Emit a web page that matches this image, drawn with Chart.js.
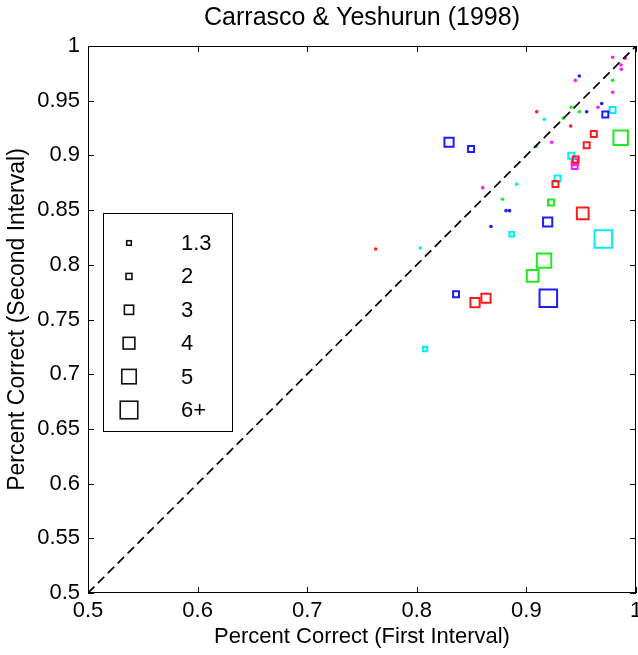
<!DOCTYPE html>
<html><head><meta charset="utf-8">
<script src="https://cdn.jsdelivr.net/npm/chart.js@4.4.0/dist/chart.umd.min.js"></script>
<style>html,body{margin:0;padding:0;background:#fff;overflow:hidden}#wrap{width:638px;height:655px;position:relative}</style>
</head><body><div id="wrap"><canvas id="c"></canvas></div>
<script>
// ---- data ----
const xTicks = [0.5, 0.6, 0.7, 0.8, 0.9, 1];
const yTicks = [0.5, 0.55, 0.6, 0.65, 0.7, 0.75, 0.8, 0.85, 0.9, 0.95, 1];
const legendLabels = ['1.3', '2', '3', '4', '5', '6+'];
const legendSizes = [1.3, 2, 3, 4, 5, 6];
const diagX = [0.5, 1];
const diagY = [0.5, 1];

// size 1 = tiny dot (below smallest legend class)
const redX    = [0.9094, 0.9404, 0.7625, 0.9615, 0.9550, 0.9450, 0.9265, 0.9514, 0.8531, 0.8631];
const redY    = [0.9399, 0.9269, 0.8144, 0.9196, 0.9093, 0.8963, 0.8739, 0.8471, 0.7654, 0.7694];
const redSize = [1, 1, 1, 2, 2, 2, 2, 4, 3, 3];

const greenX    = [0.9407, 0.9483, 0.9787, 0.9337, 0.9090, 0.8782, 0.9860, 0.9224, 0.9161, 0.9057];
const greenY    = [0.9440, 0.9399, 0.9686, 0.9339, 0.9081, 0.8599, 0.9162, 0.8569, 0.8038, 0.7898];
const greenSize = [1, 1, 1, 1, 1, 1, 5, 2, 5, 4];

const blueX    = [0.9483, 0.9550, 0.9687, 0.8814, 0.8846, 0.8677, 0.8294, 0.8495, 0.9720, 0.9194, 0.8358, 0.9200];
const blueY    = [0.9726, 0.9399, 0.9474, 0.8495, 0.8495, 0.8350, 0.9120, 0.9058, 0.9374, 0.8391, 0.7730, 0.7694];
const blueSize = [1, 1, 1, 1, 1, 1, 3, 2, 2, 3, 2, 6];

const cyanX    = [0.9163, 0.8911, 0.8032, 0.9786, 0.9409, 0.9284, 0.8866, 0.9702, 0.8075];
const cyanY    = [0.9330, 0.8737, 0.8154, 0.9415, 0.8997, 0.8789, 0.8279, 0.8236, 0.7230];
const cyanSize = [1, 1, 1, 2, 2, 2, 1.3, 6, 1.3];

const magentaX    = [0.9787, 0.9902, 0.9863, 0.9866, 0.9446, 0.9787, 0.9653, 0.9231, 0.8601, 0.9441, 0.9441];
const magentaY    = [0.9897, 0.9888, 0.9826, 0.9787, 0.9686, 0.9577, 0.9440, 0.9120, 0.8705, 0.8940, 0.8903];
const magentaSize = [1, 1, 1, 1, 1, 1, 1, 1, 1, 2, 2];

// ---- styles ----
const FONT = "'Liberation Sans', Arial, Helvetica, sans-serif";
const RADIUS = {1.3: 3.2, 2: 4.2, 3: 6.5, 4: 8.3, 5: 10.2, 6: 12.4};
function rad(s) { return s < 1.3 ? 1.8 : RADIUS[s]; }

function series(xs, ys, ss, color) {
  return {
    type: 'scatter',
    data: xs.map((x, i) => ({x: x, y: ys[i], s: ss[i]})),
    pointStyle: c => (c.raw && c.raw.s < 1.3) ? 'circle' : 'rect',
    pointRadius: c => c.raw ? rad(c.raw.s) : 3,
    backgroundColor: c => (c.raw && c.raw.s < 1.3) ? color : 'rgba(0,0,0,0)',
    borderColor: color,
    borderWidth: c => (c.raw && c.raw.s < 1.3) ? 0 : 2,
    clip: false
  };
}

const framePlugin = {
  id: 'frame',
  afterDraw(chart) {
    const {ctx, chartArea: a, scales} = chart;
    ctx.save();
    ctx.strokeStyle = '#000';
    ctx.lineWidth = 1;
    ctx.strokeRect(a.left + 0.5, a.top + 0.5, a.right - a.left - 1, a.bottom - a.top - 1);
    const tl = 6;
    ctx.beginPath();
    xTicks.forEach(v => {
      const px = Math.round(scales.x.getPixelForValue(v)) + 0.5;
      ctx.moveTo(px, a.bottom); ctx.lineTo(px, a.bottom - tl);
      ctx.moveTo(px, a.top); ctx.lineTo(px, a.top + tl);
    });
    yTicks.forEach(v => {
      const py = Math.round(scales.y.getPixelForValue(v)) + 0.5;
      ctx.moveTo(a.left, py); ctx.lineTo(a.left + tl, py);
      ctx.moveTo(a.right, py); ctx.lineTo(a.right - tl, py);
    });
    ctx.stroke();

    // legend box
    const L = a.left + 15, T = a.top + 167, W = 129, H = 218;
    ctx.fillStyle = '#fff';
    ctx.fillRect(L, T, W, H);
    ctx.strokeRect(L + 0.5, T + 0.5, W, H);
    ctx.font = '22px ' + FONT;
    ctx.textBaseline = 'middle';
    ctx.textAlign = 'left';
    legendLabels.forEach((lab, i) => {
      const cy = T + 30 + i * 33.4;
      const cx = L + 26;
      const side = 2 * Math.SQRT1_2 * rad(legendSizes[i]);
      ctx.lineWidth = 1.6;
      ctx.strokeStyle = '#111';
      ctx.strokeRect(cx - side / 2, cy - side / 2, side, side);
      ctx.fillStyle = '#000';
      ctx.fillText(lab, L + 78, cy + 1);
    });
    ctx.restore();
  }
};

new Chart(document.getElementById('c'), {
  data: {
    datasets: [
      {
        type: 'line',
        data: diagX.map((x, i) => ({x: x, y: diagY[i]})),
        borderColor: '#000',
        borderWidth: 1.7,
        borderDash: [9, 5],
        pointRadius: 0,
        fill: false
      },
      series(redX, redY, redSize, '#ff1c1c'),
      series(greenX, greenY, greenSize, '#1eea1e'),
      series(blueX, blueY, blueSize, '#1c1cff'),
      series(cyanX, cyanY, cyanSize, '#00f0f0'),
      series(magentaX, magentaY, magentaSize, '#ff1cff')
    ]
  },
  options: {
    responsive: true,
    maintainAspectRatio: false,
    animation: false,
    events: [],
    layout: {autoPadding: false, padding: {left: 0, right: 2, top: 0, bottom: 0}},
    plugins: {
      legend: {display: false},
      tooltip: {enabled: false},
      title: {
        display: true,
        fullSize: false,
        text: 'Carrasco & Yeshurun (1998)',
        color: '#000',
        font: {family: FONT, size: 25, weight: 'normal'},
        padding: {top: 3, bottom: 13}
      }
    },
    scales: {
      x: {
        type: 'linear', position: 'bottom', min: 0.5, max: 1,
        afterBuildTicks: s => { s.ticks = xTicks.map(v => ({value: v})); },
        afterFit: s => { s.height = 62; s.paddingLeft = 0; s.paddingRight = 0; },
        grid: {display: false, drawTicks: false},
        border: {display: false},
        ticks: {callback: v => String(v), color: '#000', font: {family: FONT, size: 22}, padding: 5, maxRotation: 0, autoSkip: false},
        title: {display: true, text: 'Percent Correct (First Interval)', color: '#000', font: {family: FONT, size: 22}, padding: {top: 0, bottom: 4.8}}
      },
      y: {
        type: 'linear', position: 'left', min: 0.5, max: 1,
        afterBuildTicks: s => { s.ticks = yTicks.map(v => ({value: v})); },
        afterFit: s => { s.width = 88; s.paddingTop = 0; s.paddingBottom = 0; },
        grid: {display: false, drawTicks: false},
        border: {display: false},
        ticks: {callback: v => String(v), color: '#000', font: {family: FONT, size: 22}, padding: 8, autoSkip: false},
        title: {display: true, text: 'Percent Correct (Second Interval)', color: '#000', font: {family: FONT, size: 23}, padding: {top: 4, bottom: 0}}
      }
    }
  },
  plugins: [framePlugin]
});
</script>
</body></html>
